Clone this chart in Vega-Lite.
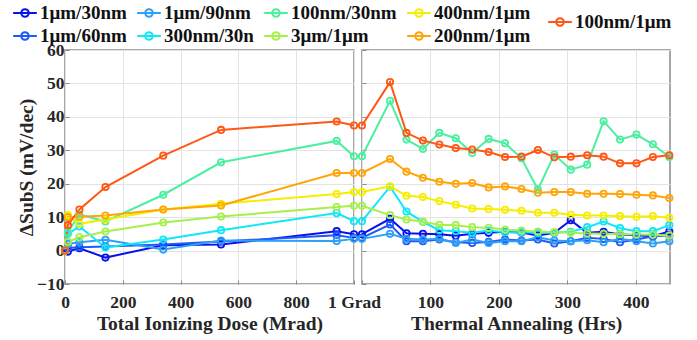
{
  "$schema": "https://vega.github.io/schema/vega-lite/v6.json",
  "background": "white",
  "padding": {"left": 12, "top": 0, "right": 5, "bottom": 3},
  "config": {
    "font": "Liberation Serif, Times New Roman, serif",
    "view": {"stroke": "#8a8a8a", "strokeWidth": 1.5},
    "style": {
      "guide-label": {"font": "Liberation Serif, Times New Roman, serif", "fontWeight": "bold"},
      "guide-title": {"font": "Liberation Serif, Times New Roman, serif", "fontWeight": "bold"}
    },
    "axis": {
      "labelFont": "Liberation Serif, Times New Roman, serif", "labelFontWeight": "bold", "labelFontSize": 17.5, "labelColor": "#262626",
      "titleFont": "Liberation Serif, Times New Roman, serif", "titleFontWeight": "bold", "titleFontSize": 19.5, "titleColor": "#262626",
      "gridColor": "#e3e3e3", "gridWidth": 1, "domain": false, "tickColor": "#8a8a8a", "tickSize": -4
    },
    "legend": {
      "labelFont": "Liberation Serif, Times New Roman, serif", "labelFontWeight": "bold", "labelFontSize": 19, "labelColor": "#111111", "padding": 0
    }
  },
  "datasets": {
    "tid": [
      {"s": "1μm/30nm", "x": 0, "y": 0}, {"s": "1μm/30nm", "x": 10, "y": -0.3}, {"s": "1μm/30nm", "x": 50, "y": 0.7}, {"s": "1μm/30nm", "x": 140, "y": -2.1}, {"s": "1μm/30nm", "x": 340, "y": 1.6}, {"s": "1μm/30nm", "x": 540, "y": 1.8}, {"s": "1μm/30nm", "x": 940, "y": 5.8}, {"s": "1μm/30nm", "x": 1000, "y": 4.9},
      {"s": "1μm/60nm", "x": 0, "y": 0}, {"s": "1μm/60nm", "x": 10, "y": 0.8}, {"s": "1μm/60nm", "x": 50, "y": 1.0}, {"s": "1μm/60nm", "x": 140, "y": 1.2}, {"s": "1μm/60nm", "x": 340, "y": 1.8}, {"s": "1μm/60nm", "x": 540, "y": 2.7}, {"s": "1μm/60nm", "x": 940, "y": 4.6}, {"s": "1μm/60nm", "x": 1000, "y": 3.8},
      {"s": "1μm/90nm", "x": 0, "y": 0}, {"s": "1μm/90nm", "x": 10, "y": 2.0}, {"s": "1μm/90nm", "x": 50, "y": 2.5}, {"s": "1μm/90nm", "x": 140, "y": 3.2}, {"s": "1μm/90nm", "x": 340, "y": 0.3}, {"s": "1μm/90nm", "x": 540, "y": 3.0}, {"s": "1μm/90nm", "x": 940, "y": 2.9}, {"s": "1μm/90nm", "x": 1000, "y": 3.5},
      {"s": "300nm/30n", "x": 0, "y": 0}, {"s": "300nm/30n", "x": 10, "y": 5.0}, {"s": "300nm/30n", "x": 50, "y": 7.2}, {"s": "300nm/30n", "x": 140, "y": 0.9}, {"s": "300nm/30n", "x": 340, "y": 3.3}, {"s": "300nm/30n", "x": 540, "y": 6.1}, {"s": "300nm/30n", "x": 940, "y": 11.2}, {"s": "300nm/30n", "x": 1000, "y": 8.8},
      {"s": "100nm/30nm", "x": 0, "y": 0}, {"s": "100nm/30nm", "x": 10, "y": 5.5}, {"s": "100nm/30nm", "x": 50, "y": 10.8}, {"s": "100nm/30nm", "x": 140, "y": 8.7}, {"s": "100nm/30nm", "x": 340, "y": 16.7}, {"s": "100nm/30nm", "x": 540, "y": 26.4}, {"s": "100nm/30nm", "x": 940, "y": 32.8}, {"s": "100nm/30nm", "x": 1000, "y": 28.2},
      {"s": "3μm/1μm", "x": 0, "y": 0}, {"s": "3μm/1μm", "x": 10, "y": 2.6}, {"s": "3μm/1μm", "x": 50, "y": 4.0}, {"s": "3μm/1μm", "x": 140, "y": 5.7}, {"s": "3μm/1μm", "x": 340, "y": 8.4}, {"s": "3μm/1μm", "x": 540, "y": 10.2}, {"s": "3μm/1μm", "x": 940, "y": 13.0}, {"s": "3μm/1μm", "x": 1000, "y": 13.4},
      {"s": "400nm/1μm", "x": 0, "y": 0}, {"s": "400nm/1μm", "x": 10, "y": 10.6}, {"s": "400nm/1μm", "x": 50, "y": 8.0}, {"s": "400nm/1μm", "x": 140, "y": 9.3}, {"s": "400nm/1μm", "x": 340, "y": 12.3}, {"s": "400nm/1μm", "x": 540, "y": 14.0}, {"s": "400nm/1μm", "x": 940, "y": 16.9}, {"s": "400nm/1μm", "x": 1000, "y": 17.5},
      {"s": "200nm/1μm", "x": 0, "y": 0}, {"s": "200nm/1μm", "x": 10, "y": 10.0}, {"s": "200nm/1μm", "x": 50, "y": 10.1}, {"s": "200nm/1μm", "x": 140, "y": 10.5}, {"s": "200nm/1μm", "x": 340, "y": 12.3}, {"s": "200nm/1μm", "x": 540, "y": 13.5}, {"s": "200nm/1μm", "x": 940, "y": 23.2}, {"s": "200nm/1μm", "x": 1000, "y": 23.2},
      {"s": "100nm/1μm", "x": 0, "y": 0}, {"s": "100nm/1μm", "x": 10, "y": 7.6}, {"s": "100nm/1μm", "x": 50, "y": 12.3}, {"s": "100nm/1μm", "x": 140, "y": 19.0}, {"s": "100nm/1μm", "x": 340, "y": 28.4}, {"s": "100nm/1μm", "x": 540, "y": 36.1}, {"s": "100nm/1μm", "x": 940, "y": 38.6}, {"s": "100nm/1μm", "x": 1000, "y": 37.4}
    ],
    "ann": [
      {"s": "1μm/30nm", "x": 0, "y": 4.9}, {"s": "1μm/30nm", "x": 41, "y": 9.5}, {"s": "1μm/30nm", "x": 65, "y": 5.2}, {"s": "1μm/30nm", "x": 89, "y": 5.0}, {"s": "1μm/30nm", "x": 113, "y": 4.9}, {"s": "1μm/30nm", "x": 137, "y": 4.4}, {"s": "1μm/30nm", "x": 161, "y": 5.0}, {"s": "1μm/30nm", "x": 185, "y": 5.3}, {"s": "1μm/30nm", "x": 209, "y": 5.6}, {"s": "1μm/30nm", "x": 233, "y": 5.4}, {"s": "1μm/30nm", "x": 257, "y": 4.5}, {"s": "1μm/30nm", "x": 281, "y": 5.3}, {"s": "1μm/30nm", "x": 305, "y": 9.1}, {"s": "1μm/30nm", "x": 329, "y": 5.3}, {"s": "1μm/30nm", "x": 353, "y": 5.6}, {"s": "1μm/30nm", "x": 377, "y": 4.8}, {"s": "1μm/30nm", "x": 401, "y": 4.6}, {"s": "1μm/30nm", "x": 425, "y": 4.3}, {"s": "1μm/30nm", "x": 449, "y": 5.7},
      {"s": "1μm/60nm", "x": 0, "y": 3.8}, {"s": "1μm/60nm", "x": 41, "y": 7.8}, {"s": "1μm/60nm", "x": 65, "y": 2.8}, {"s": "1μm/60nm", "x": 89, "y": 2.8}, {"s": "1μm/60nm", "x": 113, "y": 3.3}, {"s": "1μm/60nm", "x": 137, "y": 2.5}, {"s": "1μm/60nm", "x": 161, "y": 2.3}, {"s": "1μm/60nm", "x": 185, "y": 2.6}, {"s": "1μm/60nm", "x": 209, "y": 3.3}, {"s": "1μm/60nm", "x": 233, "y": 3.0}, {"s": "1μm/60nm", "x": 257, "y": 3.3}, {"s": "1μm/60nm", "x": 281, "y": 2.1}, {"s": "1μm/60nm", "x": 305, "y": 2.8}, {"s": "1μm/60nm", "x": 329, "y": 3.8}, {"s": "1μm/60nm", "x": 353, "y": 3.5}, {"s": "1μm/60nm", "x": 377, "y": 2.5}, {"s": "1μm/60nm", "x": 401, "y": 3.3}, {"s": "1μm/60nm", "x": 425, "y": 4.3}, {"s": "1μm/60nm", "x": 449, "y": 4.5},
      {"s": "1μm/90nm", "x": 0, "y": 3.5}, {"s": "1μm/90nm", "x": 41, "y": 5.0}, {"s": "1μm/90nm", "x": 65, "y": 3.5}, {"s": "1μm/90nm", "x": 89, "y": 3.3}, {"s": "1μm/90nm", "x": 113, "y": 3.5}, {"s": "1μm/90nm", "x": 137, "y": 2.3}, {"s": "1μm/90nm", "x": 161, "y": 3.3}, {"s": "1μm/90nm", "x": 185, "y": 2.3}, {"s": "1μm/90nm", "x": 209, "y": 2.8}, {"s": "1μm/90nm", "x": 233, "y": 2.8}, {"s": "1μm/90nm", "x": 257, "y": 4.0}, {"s": "1μm/90nm", "x": 281, "y": 3.0}, {"s": "1μm/90nm", "x": 305, "y": 2.8}, {"s": "1μm/90nm", "x": 329, "y": 3.1}, {"s": "1μm/90nm", "x": 353, "y": 2.5}, {"s": "1μm/90nm", "x": 377, "y": 3.5}, {"s": "1μm/90nm", "x": 401, "y": 2.8}, {"s": "1μm/90nm", "x": 425, "y": 2.1}, {"s": "1μm/90nm", "x": 449, "y": 2.8},
      {"s": "300nm/30n", "x": 0, "y": 8.8}, {"s": "300nm/30n", "x": 41, "y": 19.1}, {"s": "300nm/30n", "x": 65, "y": 11.7}, {"s": "300nm/30n", "x": 89, "y": 8.6}, {"s": "300nm/30n", "x": 113, "y": 6.1}, {"s": "300nm/30n", "x": 137, "y": 5.8}, {"s": "300nm/30n", "x": 161, "y": 5.3}, {"s": "300nm/30n", "x": 185, "y": 6.0}, {"s": "300nm/30n", "x": 209, "y": 5.5}, {"s": "300nm/30n", "x": 233, "y": 5.5}, {"s": "300nm/30n", "x": 257, "y": 5.3}, {"s": "300nm/30n", "x": 281, "y": 5.3}, {"s": "300nm/30n", "x": 305, "y": 5.6}, {"s": "300nm/30n", "x": 329, "y": 7.0}, {"s": "300nm/30n", "x": 353, "y": 8.7}, {"s": "300nm/30n", "x": 377, "y": 6.7}, {"s": "300nm/30n", "x": 401, "y": 5.8}, {"s": "300nm/30n", "x": 425, "y": 5.8}, {"s": "300nm/30n", "x": 449, "y": 7.6},
      {"s": "100nm/30nm", "x": 0, "y": 28.2}, {"s": "100nm/30nm", "x": 41, "y": 44.8}, {"s": "100nm/30nm", "x": 65, "y": 33.2}, {"s": "100nm/30nm", "x": 89, "y": 30.4}, {"s": "100nm/30nm", "x": 113, "y": 35.2}, {"s": "100nm/30nm", "x": 137, "y": 33.6}, {"s": "100nm/30nm", "x": 161, "y": 29.2}, {"s": "100nm/30nm", "x": 185, "y": 33.4}, {"s": "100nm/30nm", "x": 209, "y": 32.1}, {"s": "100nm/30nm", "x": 233, "y": 27.6}, {"s": "100nm/30nm", "x": 257, "y": 18.3}, {"s": "100nm/30nm", "x": 281, "y": 28.7}, {"s": "100nm/30nm", "x": 305, "y": 24.2}, {"s": "100nm/30nm", "x": 329, "y": 25.7}, {"s": "100nm/30nm", "x": 353, "y": 38.7}, {"s": "100nm/30nm", "x": 377, "y": 33.2}, {"s": "100nm/30nm", "x": 401, "y": 34.7}, {"s": "100nm/30nm", "x": 425, "y": 31.8}, {"s": "100nm/30nm", "x": 449, "y": 28.0},
      {"s": "3μm/1μm", "x": 0, "y": 13.4}, {"s": "3μm/1μm", "x": 41, "y": 10.6}, {"s": "3μm/1μm", "x": 65, "y": 9.3}, {"s": "3μm/1μm", "x": 89, "y": 8.6}, {"s": "3μm/1μm", "x": 113, "y": 7.7}, {"s": "3μm/1μm", "x": 137, "y": 7.6}, {"s": "3μm/1μm", "x": 161, "y": 7.0}, {"s": "3μm/1μm", "x": 185, "y": 6.8}, {"s": "3μm/1μm", "x": 209, "y": 6.3}, {"s": "3μm/1μm", "x": 233, "y": 6.0}, {"s": "3μm/1μm", "x": 257, "y": 5.7}, {"s": "3μm/1μm", "x": 281, "y": 5.5}, {"s": "3μm/1μm", "x": 305, "y": 5.3}, {"s": "3μm/1μm", "x": 329, "y": 5.1}, {"s": "3μm/1μm", "x": 353, "y": 5.0}, {"s": "3μm/1μm", "x": 377, "y": 4.9}, {"s": "3μm/1μm", "x": 401, "y": 4.8}, {"s": "3μm/1μm", "x": 425, "y": 4.7}, {"s": "3μm/1μm", "x": 449, "y": 4.5},
      {"s": "400nm/1μm", "x": 0, "y": 17.5}, {"s": "400nm/1μm", "x": 41, "y": 19.2}, {"s": "400nm/1μm", "x": 65, "y": 16.4}, {"s": "400nm/1μm", "x": 89, "y": 16.0}, {"s": "400nm/1μm", "x": 113, "y": 14.8}, {"s": "400nm/1μm", "x": 137, "y": 13.7}, {"s": "400nm/1μm", "x": 161, "y": 12.6}, {"s": "400nm/1μm", "x": 185, "y": 12.4}, {"s": "400nm/1μm", "x": 209, "y": 12.2}, {"s": "400nm/1μm", "x": 233, "y": 11.9}, {"s": "400nm/1μm", "x": 257, "y": 11.3}, {"s": "400nm/1μm", "x": 281, "y": 11.3}, {"s": "400nm/1μm", "x": 305, "y": 10.7}, {"s": "400nm/1μm", "x": 329, "y": 10.5}, {"s": "400nm/1μm", "x": 353, "y": 10.5}, {"s": "400nm/1μm", "x": 377, "y": 10.3}, {"s": "400nm/1μm", "x": 401, "y": 10.1}, {"s": "400nm/1μm", "x": 425, "y": 10.3}, {"s": "400nm/1μm", "x": 449, "y": 9.8},
      {"s": "200nm/1μm", "x": 0, "y": 23.2}, {"s": "200nm/1μm", "x": 41, "y": 27.4}, {"s": "200nm/1μm", "x": 65, "y": 23.6}, {"s": "200nm/1μm", "x": 89, "y": 21.8}, {"s": "200nm/1μm", "x": 113, "y": 20.6}, {"s": "200nm/1μm", "x": 137, "y": 20.0}, {"s": "200nm/1μm", "x": 161, "y": 20.2}, {"s": "200nm/1μm", "x": 185, "y": 18.9}, {"s": "200nm/1μm", "x": 209, "y": 19.2}, {"s": "200nm/1μm", "x": 233, "y": 18.4}, {"s": "200nm/1μm", "x": 257, "y": 17.3}, {"s": "200nm/1μm", "x": 281, "y": 17.5}, {"s": "200nm/1μm", "x": 305, "y": 17.5}, {"s": "200nm/1μm", "x": 329, "y": 17.0}, {"s": "200nm/1μm", "x": 353, "y": 17.0}, {"s": "200nm/1μm", "x": 377, "y": 16.9}, {"s": "200nm/1μm", "x": 401, "y": 16.7}, {"s": "200nm/1μm", "x": 425, "y": 16.5}, {"s": "200nm/1μm", "x": 449, "y": 15.7},
      {"s": "100nm/1μm", "x": 0, "y": 37.4}, {"s": "100nm/1μm", "x": 41, "y": 50.4}, {"s": "100nm/1μm", "x": 65, "y": 35.2}, {"s": "100nm/1μm", "x": 89, "y": 32.9}, {"s": "100nm/1μm", "x": 113, "y": 31.7}, {"s": "100nm/1μm", "x": 137, "y": 30.7}, {"s": "100nm/1μm", "x": 161, "y": 30.2}, {"s": "100nm/1μm", "x": 185, "y": 29.5}, {"s": "100nm/1μm", "x": 209, "y": 28.0}, {"s": "100nm/1μm", "x": 233, "y": 28.1}, {"s": "100nm/1μm", "x": 257, "y": 30.1}, {"s": "100nm/1μm", "x": 281, "y": 27.9}, {"s": "100nm/1μm", "x": 305, "y": 28.1}, {"s": "100nm/1μm", "x": 329, "y": 28.5}, {"s": "100nm/1μm", "x": 353, "y": 28.1}, {"s": "100nm/1μm", "x": 377, "y": 26.1}, {"s": "100nm/1μm", "x": 401, "y": 26.1}, {"s": "100nm/1μm", "x": 425, "y": 28.0}, {"s": "100nm/1μm", "x": 449, "y": 28.5}
    ]
  },
  "resolve": {"scale": {"color": "shared"}},
  "bounds": "flush",
  "spacing": 8,
  "hconcat": [
    {
      "width": 289, "height": 234,
      "data": {"name": "tid"},
      "encoding": {
        "x": {"field": "x", "type": "quantitative", "scale": {"domain": [0, 1000], "nice": false},
              "axis": {"title": "Total Ionizing Dose (Mrad)", "values": [0, 200, 400, 600, 800, 1000], "labelExpr": "datum.value == 1000 ? '1 Grad' : datum.label", "labelBound": false, "labelFlush": false, "labelOverlap": false, "labelPadding": 13, "titlePadding": 4,
                       "labelFont": "Liberation Serif", "titleFont": "Liberation Serif", "labelFontWeight": "bold", "titleFontWeight": "bold"}},
        "y": {"field": "y", "type": "quantitative", "scale": {"domain": [-10, 60], "nice": false},
              "axis": {"title": "ΔSubS (mV/dec)", "values": [-10, 0, 10, 20, 30, 40, 50, 60], "labelPadding": 5, "titlePadding": 0,
                       "labelFont": "Liberation Serif", "titleFont": "Liberation Serif", "labelFontWeight": "bold", "titleFontWeight": "bold"}},
        "color": {"field": "s", "type": "nominal",
          "scale": {"domain": ["1μm/30nm", "1μm/60nm", "1μm/90nm", "300nm/30n", "100nm/30nm", "3μm/1μm", "400nm/1μm", "200nm/1μm", "100nm/1μm"],
                    "range": ["#0A12EC", "#1E5AF5", "#2EA0F5", "#10E8F8", "#4CEFA0", "#A6F04E", "#F5EE00", "#FFA50A", "#FF5714"]},
          "legend": {"title": null, "orient": "none", "legendX": -53, "legendY": -50, "direction": "horizontal", "columns": 4, "columnPadding": 6, "rowPadding": 0, "padding": 0,
                     "values": ["1μm/30nm", "1μm/90nm", "100nm/30nm", "400nm/1μm", "1μm/60nm", "300nm/30n", "3μm/1μm", "200nm/1μm"],
                     "symbolType": "M-1,0H1M-0.32,0A0.32,0.32,0,1,1,0.32,0A0.32,0.32,0,1,1,-0.32,0", "symbolSize": 560, "symbolStrokeWidth": 2, "symbolFillColor": "transparent", "labelOffset": 2}}
      },
      "layer": [
        {"mark": {"type": "line", "strokeWidth": 2}},
        {"mark": {"type": "point", "shape": "circle", "filled": false, "size": 40, "strokeWidth": 1.8, "opacity": 1}},
        {"transform": [{"filter": "datum.s == '100nm/1μm' && datum.x == 0"}],
         "mark": {"type": "point", "opacity": 0},
         "encoding": {
           "color": {"value": "#FF5714"},
           "shape": {"datum": "100nm/1μm", "type": "nominal",
             "scale": {"range": ["M-1,0H1M-0.32,0A0.32,0.32,0,1,1,0.32,0A0.32,0.32,0,1,1,-0.32,0"]},
             "legend": {"title": null, "orient": "none", "legendX": 482, "legendY": -41, "padding": 0, "symbolSize": 560, "symbolStrokeWidth": 2, "symbolStrokeColor": "#FF5714", "symbolFillColor": "transparent", "symbolOpacity": 1, "labelOffset": 2}}
         }}
      ]
    },
    {
      "width": 308, "height": 234,
      "data": {"name": "ann"},
      "encoding": {
        "x": {"field": "x", "type": "quantitative", "scale": {"domain": [0, 450], "nice": false},
              "axis": {"title": "Thermal Annealing (Hrs)", "values": [0, 100, 200, 300, 400], "labelExpr": "datum.value == 0 ? '' : datum.label", "labelPadding": 13, "titlePadding": 4,
                       "labelFont": "Liberation Serif", "titleFont": "Liberation Serif", "labelFontWeight": "bold", "titleFontWeight": "bold"}},
        "y": {"field": "y", "type": "quantitative", "scale": {"domain": [-10, 60], "nice": false},
              "axis": {"title": null, "labels": false, "values": [-10, 0, 10, 20, 30, 40, 50, 60]}},
        "color": {"field": "s", "type": "nominal"}
      },
      "layer": [
        {"mark": {"type": "line", "strokeWidth": 2}},
        {"mark": {"type": "point", "shape": "circle", "filled": false, "size": 40, "strokeWidth": 1.8, "opacity": 1}}
      ]
    }
  ]
}
